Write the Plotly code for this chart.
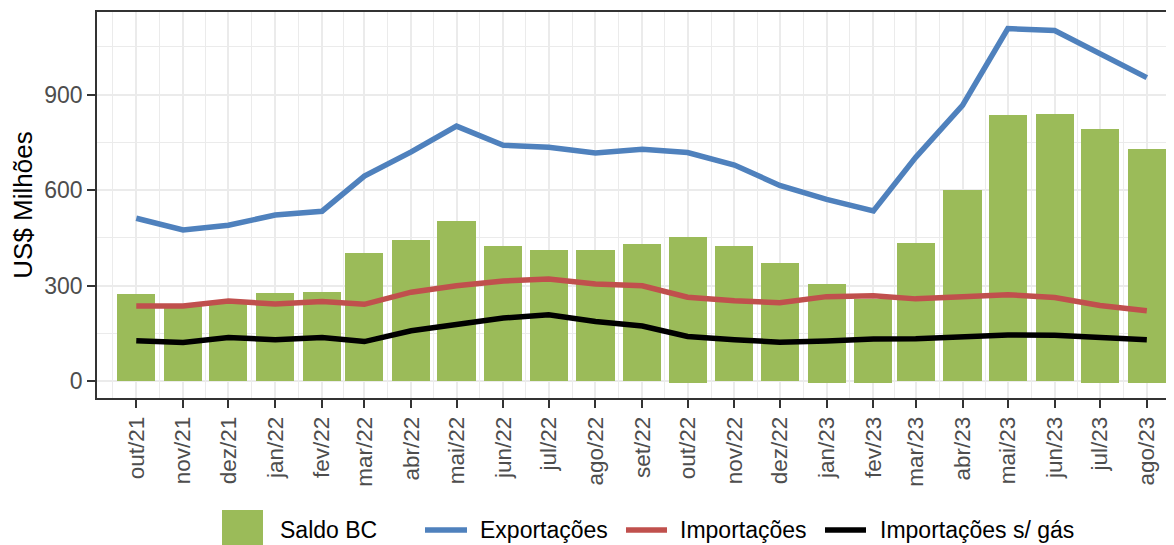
import pandas as pd
import plotly.graph_objects as go

# ---------------- data ----------------
meses = ["2021-10-01", "2021-11-01", "2021-12-01", "2022-01-01", "2022-02-01", "2022-03-01",
         "2022-04-01", "2022-05-01", "2022-06-01", "2022-07-01", "2022-08-01", "2022-09-01",
         "2022-10-01", "2022-11-01", "2022-12-01", "2023-01-01", "2023-02-01", "2023-03-01",
         "2023-04-01", "2023-05-01", "2023-06-01", "2023-07-01", "2023-08-01"]
rotulos = ["out/21", "nov/21", "dez/21", "jan/22", "fev/22", "mar/22", "abr/22", "mai/22",
           "jun/22", "jul/22", "ago/22", "set/22", "out/22", "nov/22", "dez/22", "jan/23",
           "fev/23", "mar/23", "abr/23", "mai/23", "jun/23", "jul/23", "ago/23"]
saldo_bc = [275, 236, 244, 278, 281, 403, 444, 503, 425, 413, 413, 431, 453, 425, 372, 306,
            258, 434, 600, 835, 838, 791, 729]
saldo_bc_neg = [0, 0, 0, 0, 0, 0, 0, 0, 0, 0, 0, 0, -3, 0, 0, -3, -3, 0, 0, 0, 0, -3, -3]
exportacoes = [512, 475, 490, 522, 534, 644, 720, 801, 741, 735, 717, 728, 718, 679, 615,
               571, 535, 703, 866, 1107, 1101, 1030, 953]
importacoes = [237, 237, 252, 243, 251, 242, 280, 300, 315, 321, 306, 300, 264, 253, 247,
               266, 269, 259, 266, 272, 263, 238, 222]
importacoes_sem_gas = [128, 122, 138, 131, 138, 125, 159, 178, 199, 209, 188, 174, 141, 131,
                       123, 127, 133, 134, 139, 146, 145, 137, 131]
y_ticks = [0, 300, 600, 900]

# ---------------- styling ----------------
# The page body has an 8px margin; the figure is sized to fill the rest of the window.
OFF = 8
W, H = 1174 - OFF, 545 - OFF
ML, MR, MT, MB = 97 - OFF, 0, 12 - OFF, 545 - 398 - 0
FONT = "Liberation Sans, Arial, Helvetica, sans-serif"
GREEN, BLUE, RED, BLACK = "#9BBB59", "#4F81BD", "#C0504D", "#000000"
GRID = "#EBEBEB"
AXIS_TXT = "#4D4D4D"

x = pd.to_datetime(meses)
bar_w = 25.2 * 86400000  # ms
x_range = [x[0] - pd.Timedelta(days=26), x[-1] + pd.Timedelta(days=18)]
mids = [x[0] - (x[1] - x[0]) / 2] + [x[i] + (x[i + 1] - x[i]) / 2 for i in range(len(x) - 1)] \
       + [x[-1] + pd.Timedelta(days=15)]

fig = go.Figure()
fig.add_trace(go.Bar(x=x, y=saldo_bc, width=bar_w, marker=dict(color=GREEN, line=dict(width=0)),
                     name="Saldo BC", showlegend=False))
fig.add_trace(go.Bar(x=x, y=saldo_bc_neg, width=bar_w, marker=dict(color=GREEN, line=dict(width=0)),
                     name="Saldo BC", showlegend=False, hoverinfo="skip"))
fig.add_trace(go.Scatter(x=x, y=exportacoes, mode="lines", line=dict(color=BLUE, width=5.5),
                         name="Exportações", showlegend=False))
fig.add_trace(go.Scatter(x=x, y=importacoes, mode="lines", line=dict(color=RED, width=5.5),
                         name="Importações", showlegend=False))
fig.add_trace(go.Scatter(x=x, y=importacoes_sem_gas, mode="lines", line=dict(color=BLACK, width=5.5),
                         name="Importações s/ gás", showlegend=False))

fig.update_layout(
    width=W, height=H,
    margin=dict(l=ML, r=MR, t=MT, b=MB, pad=0),
    paper_bgcolor="white", plot_bgcolor="white",
    barmode="relative", bargap=0,
    font=dict(family=FONT, color="black"),
    xaxis=dict(
        type="date", range=x_range,
        tickmode="array", tickvals=x, ticktext=rotulos, tickangle=-90,
        tickfont=dict(size=22.5, color=AXIS_TXT, family=FONT),
        ticks="outside", ticklen=8, tickwidth=1.5, tickcolor="#333333",
        showgrid=True, gridcolor=GRID, gridwidth=2,
        minor=dict(tickmode="array", tickvals=mids, showgrid=True, gridcolor=GRID, gridwidth=1, ticks=""),
        showline=True, linecolor="#333333", linewidth=1.5, mirror=True,
        zeroline=False,
    ),
    yaxis=dict(
        range=[-52, 1159],
        tickmode="array", tickvals=y_ticks,
        tickfont=dict(size=23, color=AXIS_TXT, family=FONT),
        ticks="outside", ticklen=8, tickwidth=1.5, tickcolor="#333333",
        showgrid=True, gridcolor=GRID, gridwidth=2,
        minor=dict(dtick=150, tick0=0, showgrid=True, gridcolor=GRID, gridwidth=1, ticks=""),
        showline=True, linecolor="#333333", linewidth=1.5, mirror=False,
        zeroline=False,
        title=dict(text="US$ Milhões", font=dict(size=26, color="black", family=FONT), standoff=10),
    ),
)

# ---------------- legend (positions given in window pixels) ----------------
PW = W - ML - MR
PH = H - MT - MB


def px(xp):
    return (xp - OFF - ML) / PW


def py(yp):
    return (H - MB - (yp - OFF)) / PH


LEG_Y = 530
fig.add_shape(type="rect", xref="paper", yref="paper", x0=px(222), x1=px(263), y0=py(551), y1=py(510),
              fillcolor=GREEN, line=dict(width=0), layer="above")
for x0, x1, col in [(425, 467, BLUE), (626, 667, RED), (825, 866, BLACK)]:
    fig.add_shape(type="line", xref="paper", yref="paper", x0=px(x0), x1=px(x1), y0=py(LEG_Y), y1=py(LEG_Y),
                  line=dict(color=col, width=5.5), layer="above")
for xt, txt in [(278, "Saldo BC"), (478, "Exportações"), (678, "Importações"), (878, "Importações s/ gás")]:
    fig.add_annotation(xref="paper", yref="paper", x=px(xt), y=py(LEG_Y), text=txt, showarrow=False,
                       xanchor="left", yanchor="middle", font=dict(size=23, color="black", family=FONT))

fig.write_html("out.html")
